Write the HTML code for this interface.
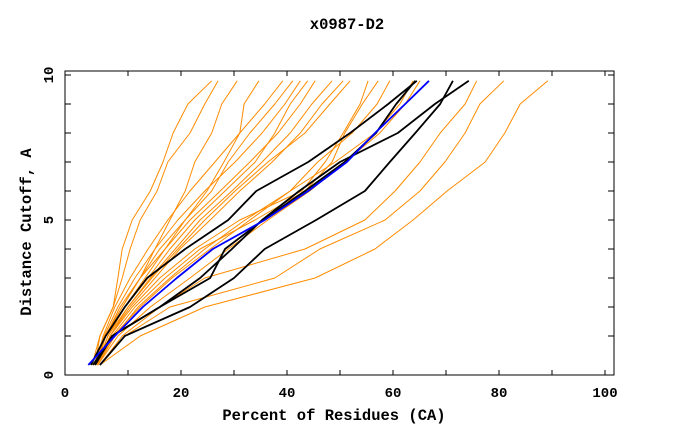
<!DOCTYPE html>
<html><head><meta charset="utf-8"><style>
body{margin:0;background:#fff;}
svg{display:block;}
text{font-family:"Liberation Mono",monospace;font-weight:bold;font-size:15.5px;fill:#000;}
text.tick{font-size:14px;}
</style></head><body>
<svg id="chart" width="680" height="440" viewBox="0 0 680 440" xmlns="http://www.w3.org/2000/svg">
<rect width="680" height="440" fill="#fff"/>
<text x="347" y="29" text-anchor="middle">x0987-D2</text>
<text x="334" y="420" text-anchor="middle">Percent of Residues (CA)</text>
<text transform="translate(31,232) rotate(-90)" text-anchor="middle">Distance Cutoff, A</text>
<g id="ticks"></g>
<g id="series"></g>
<rect x="65" y="71" width="549" height="304" fill="none" stroke="#000" stroke-width="1"/>
</svg>
<script>
const yLevels = [0,1,2,3,4,5,6,7,8,9,9.8];
const xTickValues = [0,10,20,30,40,50,60,70,80,90,100];
const xTickLabels = ["0","","20","","40","","60","","80","","100"];
const yTickValues = [0,1,2,3,4,5,6,7,8,9,10];
const yTickLabels = ["0","","","","","5","","","","","10"];

const blueSeries = [2.5,7.5,12.8,19.2,26.0,35.8,44.0,51.3,56.6,62.3,66.8];
const blackA = [3.0,5.8,9.4,13.6,20.8,28.9,34.2,44.0,51.9,59.1,64.5];
const blackE = [3.8,7.0,16.0,25.5,28.3,35.5,43.4,50.9,56.8,60.6,64.2];
const blackB = [3.4,7.0,16.0,23.6,29.6,35.3,42.3,50.0,60.9,67.9,74.3];
const blackD = [4.7,9.4,21.7,30.0,35.8,45.5,54.7,59.4,64.2,68.9,71.3];

const orangeL1 = [3.2,4.7,7.2,8.1,8.9,10.8,14.2,16.6,18.5,21.3,25.8];
const orangeL2 = [3.8,4.7,7.2,8.9,10.4,12.3,15.5,17.5,21.7,24.5,27.0];
const orangeL3 = [3.8,5.7,8.9,12.3,15.1,17.9,20.8,22.6,25.8,27.7,30.6];
const orangeL4 = [4.2,6.2,9.4,13.2,17.0,20.8,24.9,28.1,31.1,31.9,34.7];
const orangeM1 = [4.2,5.7,8.9,12.3,16.0,20.8,25.8,28.9,33.0,37.7,41.1];
const orangeM2 = [3.9,5.5,8.1,11.3,15.1,19.4,24.5,30.2,35.3,39.6,42.5];
const orangeM3 = [4.3,6.2,9.4,13.8,17.9,22.6,28.3,34.0,37.7,40.6,43.9];
const orangeM4 = [4.2,5.8,8.5,12.3,17.0,21.7,27.4,33.0,38.3,42.5,45.3];
const orangeM5 = [3.9,5.3,7.5,10.4,13.8,17.5,21.7,26.4,31.1,35.8,39.2];
const orangeN1 = [4.3,6.6,10.0,14.2,18.9,23.6,29.6,35.3,40.6,44.7,48.5];
const orangeN2 = [4.3,6.6,10.4,15.1,19.8,25.5,31.1,37.2,42.5,46.6,50.6];
const orangeN3 = [4.2,6.2,10.0,14.5,19.4,24.5,30.2,36.4,43.4,48.1,51.9];
const orangeP1 = [4.2,6.6,10.8,16.0,22.6,31.1,42.8,47.2,50.6,53.8,55.3];
const orangeP2 = [4.2,7.0,11.3,17.0,23.6,33.96,43.4,48.5,50.9,54.2,57.2];
const orangeP3 = [4.2,7.2,12.3,18.3,25.5,33.0,40.6,45.8,52.3,57.0,59.4];
const orangeQ1 = [4.3,7.5,11.9,17.9,24.5,32.1,40.6,49.1,56.6,61.3,63.8];
const orangeQ2 = [4.3,8.1,14.2,21.7,28.9,36.4,44.3,50.9,57.5,62.3,65.1];
const orangeR1 = [4.7,8.9,16.0,24.5,43.4,54.7,60.4,65.1,68.9,73.6,75.8];
const orangeR2 = [4.7,9.4,17.9,37.7,46.2,58.5,65.1,69.8,73.6,76.4,80.9];
const orangeR3 = [4.7,12.3,24.5,45.3,56.6,63.8,70.2,77.4,81.1,84.0,89.2];

const NS = "http://www.w3.org/2000/svg";
function xScale(v){ return 75 + 5.3*v; }
function yScale(v){ return 365 - 29*v; }
function xTickPos(v){ return v===0 ? 65 : xScale(v); }
function yTickPos(v){ return v===0 ? 375 : yScale(v); }

const ticks = document.getElementById('ticks');
xTickValues.forEach((v,i)=>{
  const x = xTickPos(v);
  [[375,370],[71,76]].forEach(([a,b])=>{
    const t = document.createElementNS(NS,'line');
    t.setAttribute('x1',x); t.setAttribute('x2',x); t.setAttribute('y1',a); t.setAttribute('y2',b);
    t.setAttribute('stroke','#000');
    
    
    ticks.appendChild(t);
  });
  if(xTickLabels[i]){
    const lb = document.createElementNS(NS,'text');
    lb.setAttribute('x',x); lb.setAttribute('y',397); lb.setAttribute('text-anchor','middle');
    lb.setAttribute('class','tick');
    lb.textContent = xTickLabels[i];
    
    
    ticks.appendChild(lb);
  }
});
yTickValues.forEach((v,i)=>{
  const y = yTickPos(v);
  [[65,71],[614,608]].forEach(([a,b])=>{
    const t = document.createElementNS(NS,'line');
    t.setAttribute('x1',a); t.setAttribute('x2',b); t.setAttribute('y1',y); t.setAttribute('y2',y);
    t.setAttribute('stroke','#000');
    
    
    ticks.appendChild(t);
  });
  if(yTickLabels[i]){
    const lb = document.createElementNS(NS,'text');
    lb.setAttribute('transform','translate(53,'+y+') rotate(-90)');
    lb.setAttribute('text-anchor','middle');
    lb.setAttribute('class','tick');
    lb.textContent = yTickLabels[i];
    
    
    ticks.appendChild(lb);
  }
});

const seriesG = document.getElementById('series');
function drawLine(xs, color, width, name){
  const d = xs.map((v,i)=>(i?'L':'M')+xScale(v).toFixed(1)+','+yScale(yLevels[i]).toFixed(1)).join(' ');
  const p = document.createElementNS(NS,'path');
  p.setAttribute('d',d); p.setAttribute('fill','none');
  p.setAttribute('stroke',color); p.setAttribute('stroke-width',width);
  p.setAttribute('stroke-linejoin','round');
  
  
  seriesG.appendChild(p);
}
const oranges = [orangeL1,orangeL2,orangeL3,orangeL4,orangeM1,orangeM2,orangeM3,orangeM4,orangeM5,orangeN1,orangeN2,orangeN3,orangeP1,orangeP2,orangeP3,orangeQ1,orangeQ2,orangeR1,orangeR2,orangeR3];
oranges.forEach(s=>drawLine(s,'#ff8c00',1,'orange-model-line'));
[blackA,blackE,blackB,blackD].forEach(s=>drawLine(s,'#000',1.8,'black-model-line'));
drawLine(blueSeries,'#0000ff',1.8,'blue-model-line');
</script>
</body></html>
